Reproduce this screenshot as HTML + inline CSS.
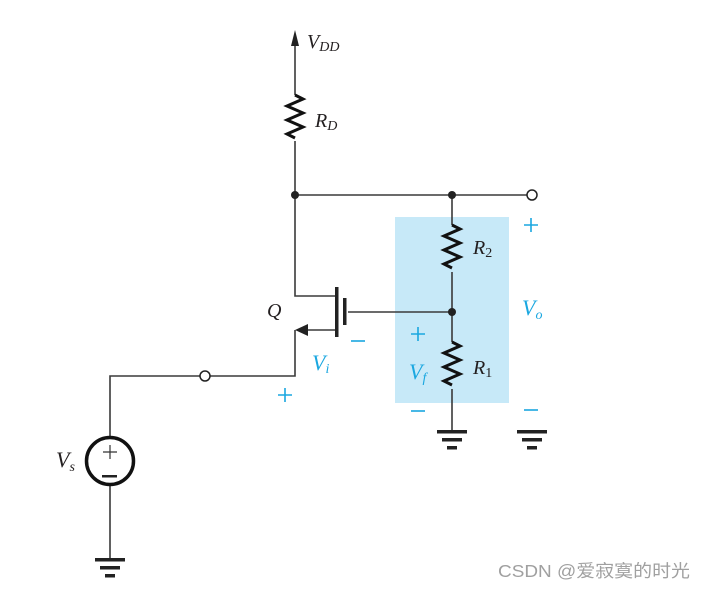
<!DOCTYPE html>
<html><head><meta charset="utf-8"><style>
html,body{margin:0;padding:0;background:#fff;width:704px;height:590px;overflow:hidden}
svg{display:block}
.t{font-family:"Liberation Serif",serif;font-style:italic;fill:#231f20}
.b{font-family:"Liberation Serif",serif;font-style:italic;fill:#1aa7e0}
.p{fill:none;stroke:#1aa7e0;stroke-width:1.6}
</style></head><body>
<svg width="704" height="590" viewBox="0 0 704 590">
<rect x="395" y="217" width="114" height="186" fill="#c7e9f8"/>
<g stroke="#3a3a3a" stroke-width="1.6" fill="none">
<path d="M295 40 V95 M295 141 V296 H337"/>
<path d="M295 95 l8 4 l-16 7 l16 7 l-16 7 l16 7 l-16 7 l8 4" stroke="#111" stroke-width="3" stroke-linejoin="miter"/>
<path d="M295 195 H527"/>
<path d="M452 195 V225 M452 272 V342 M452 389 V430"/>
<path d="M452 225 l8 4 l-16 7 l16 7 l-16 7 l16 7 l-16 7 l8 4" stroke="#111" stroke-width="3"/>
<path d="M452 342 l8 4 l-16 7 l16 7 l-16 7 l16 7 l-16 7 l8 4" stroke="#111" stroke-width="3"/>
<path d="M348 312 H452"/>
<path d="M337 330 H305 M295 330 V376 H210 M200 376 H110 V437 M110 485 V558"/>
</g>
<polygon points="295,30 291,46 299,46" fill="#222"/>
<polygon points="295,330 308,324 308,336" fill="#222"/>
<rect x="335" y="287" width="3.5" height="50" fill="#222"/>
<rect x="343" y="298" width="3.5" height="27" fill="#222"/>
<circle cx="295" cy="195" r="4" fill="#222"/>
<circle cx="452" cy="195" r="4" fill="#222"/>
<circle cx="452" cy="312" r="4" fill="#222"/>
<circle cx="532" cy="195" r="5" fill="#fff" stroke="#222" stroke-width="1.5"/>
<circle cx="205" cy="376" r="5" fill="#fff" stroke="#222" stroke-width="1.5"/>
<circle cx="110" cy="461" r="23.5" fill="#fff" stroke="#111" stroke-width="3.5"/>
<path d="M110 445 V459 M103 452 H117" stroke="#333" stroke-width="1.2"/>
<rect x="102" y="475" width="15" height="2.5" fill="#222"/>
<g fill="#222">
<rect x="95" y="558" width="30" height="3.5"/><rect x="100" y="566" width="20" height="3.5"/><rect x="105" y="574" width="10" height="3.5"/>
<rect x="437" y="430" width="30" height="3.5"/><rect x="442" y="438" width="20" height="3.5"/><rect x="447" y="446" width="10" height="3.5"/>
<rect x="517" y="430" width="30" height="3.5"/><rect x="522" y="438" width="20" height="3.5"/><rect x="527" y="446" width="10" height="3.5"/>
</g>
<text class="t" x="307" y="48" font-size="20">V<tspan font-size="14" dy="3">DD</tspan></text>
<text class="t" x="315" y="127" font-size="20">R<tspan font-size="14" dy="3">D</tspan></text>
<text class="t" x="473" y="254" font-size="20">R<tspan font-size="14" font-style="normal" dy="3">2</tspan></text>
<text class="t" x="473" y="374" font-size="20">R<tspan font-size="14" font-style="normal" dy="3">1</tspan></text>
<text class="t" x="267" y="317" font-size="20">Q</text>
<text class="t" x="56" y="467" font-size="22">V<tspan font-size="14" dy="4">s</tspan></text>
<text class="b" x="312" y="370" font-size="22">V<tspan font-size="14" dy="3">i</tspan></text>
<text class="b" x="409" y="379" font-size="22">V<tspan font-size="14" dy="3">f</tspan></text>
<text class="b" x="522" y="315" font-size="22">V<tspan font-size="14" dy="4">o</tspan></text>
<path class="p" d="M278 395 H292 M285 388 V402"/>
<path class="p" d="M351 341 H365"/>
<path class="p" d="M411 334 H425 M418 327 V341"/>
<path class="p" d="M411 411 H425"/>
<path class="p" d="M524 225 H538 M531 218 V232"/>
<path class="p" d="M524 410 H538"/>
<text x="498" y="577" font-family="'Liberation Sans','Noto Sans CJK SC',sans-serif" font-size="17.5" fill="#a0a0a0" textLength="192" lengthAdjust="spacingAndGlyphs">CSDN @爱寂寞的时光</text>
</svg>
</body></html>
